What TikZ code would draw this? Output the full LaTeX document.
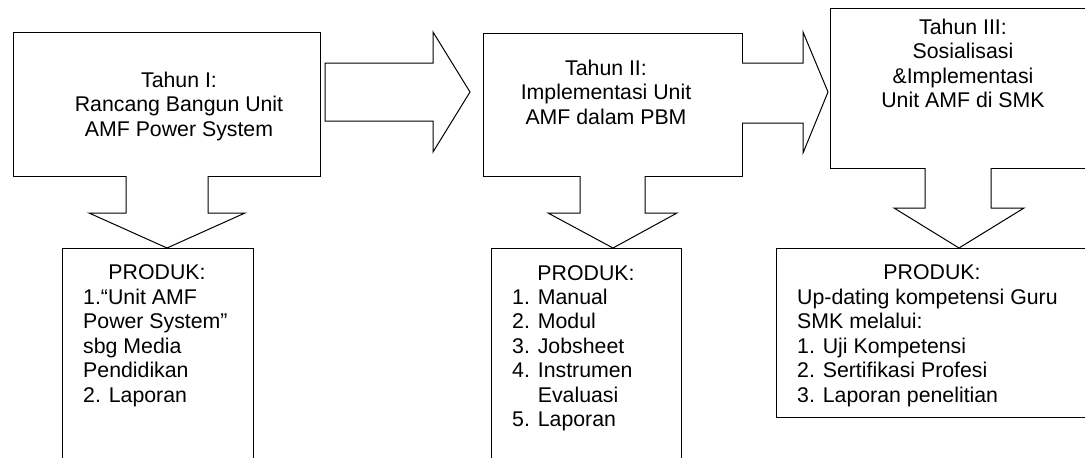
\documentclass[tikz,border=0pt]{standalone}
\usepackage{fontspec}
\setmainfont{Liberation Sans}
\begin{document}
\begin{tikzpicture}[x=1pt,y=-1pt,
  blk/.style={draw=black, line width=1pt, fill=white, line join=miter, inner sep=0pt, outer sep=0pt},
  barrow/.style={draw=black, line width=1pt, fill=white, line join=miter},
  txt/.style={font=\fontsize{21.3}{24.5}\selectfont, inner sep=0pt, align=center},
  txl/.style={font=\fontsize{21.3}{24.5}\selectfont, inner sep=0pt, align=left}]
\useasboundingbox (0,0) rectangle (1085,458);
\clip (0,0) rectangle (1085,458);
% boxes
\node[blk, anchor=north west, minimum width=307pt, minimum height=144pt] (b1) at (13,32) {};
\node[blk, anchor=north west, minimum width=259pt, minimum height=143pt] (b2) at (483,33) {};
\node[blk, anchor=north west, minimum width=266pt, minimum height=160pt] (b3) at (830,8) {};
\node[blk, anchor=north west, minimum width=191pt, minimum height=230pt] (p1) at (62,248) {};
\node[blk, anchor=north west, minimum width=190pt, minimum height=230pt] (p2) at (491,248) {};
\node[blk, anchor=north west, minimum width=311pt, minimum height=169pt] (p3) at (776,248) {};
% block arrows
\draw[barrow] (325,63) -- (433,63) -- (433,32) -- (470,92) -- (433,152) -- (433,121) -- (325,121) -- cycle;
\draw[barrow] (742,63) -- (803,63) -- (803,32) -- (828,92) -- (803,153) -- (803,123) -- (742,123);
\draw[barrow] (126,176) -- (126,213) -- (89,213) -- (167,248) -- (245,213) -- (208,213) -- (208,176);
\draw[barrow] (580,176) -- (580,213) -- (548,213) -- (613,248) -- (677,213) -- (645,213) -- (645,176);
\draw[barrow] (925,168) -- (925,208) -- (894,208) -- (959,248) -- (1024,208) -- (991,208) -- (991,168);
% texts (multi-line nodes: base anchor = last line baseline)
\node[txt, anchor=base] (t1) at (179,136) {Tahun I:\\Rancang Bangun Unit\\AMF Power System};
\node[txt, anchor=base] (t2) at (606,124) {Tahun II:\\Implementasi Unit\\AMF dalam PBM};
\node[txt, anchor=base] (t3) at (963,107.5) {Tahun III:\\Sosialisasi\\\&Implementasi\\Unit AMF di SMK};
\node[txt, anchor=base] (h1) at (157,279) {PRODUK:};
\node[txt, anchor=base] (h2) at (586,280) {PRODUK:};
\node[txt, anchor=base] (h3) at (932,279) {PRODUK:};
\node[txl, anchor=base west] (l1) at (83,402) {1.“Unit AMF\\Power System”\\sbg Media\\Pendidikan\\2. Laporan};
\node[txl, anchor=base west] (l2) at (512,426.5) {1. Manual\\2. Modul\\3. Jobsheet\\4. Instrumen\\\phantom{4. }Evaluasi\\5. Laporan};
\node[txl, anchor=base west] (l3) at (797,402) {Up-dating kompetensi Guru\\SMK melalui:\\1. Uji Kompetensi\\2. Sertifikasi Profesi\\3. Laporan penelitian};
\end{tikzpicture}
\end{document}
